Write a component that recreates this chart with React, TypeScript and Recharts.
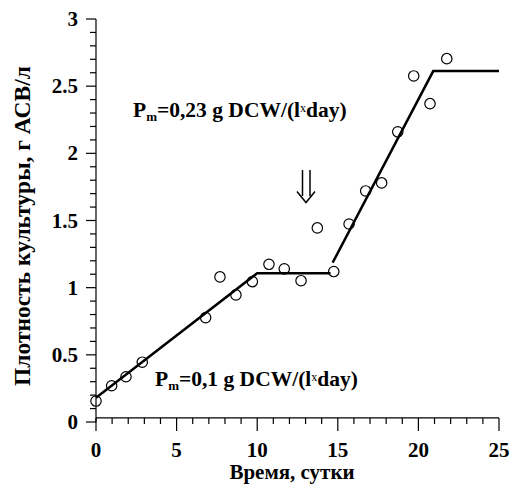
import React from "react";
import { ComposedChart, XAxis, YAxis, Line, Scatter, ReferenceLine } from "recharts";

const pointX = [0, 0.97, 1.86, 2.87, 6.8, 7.69, 8.68, 9.7, 10.73, 11.68, 12.72, 13.73, 14.75, 15.7, 16.73, 17.72, 18.72, 19.71, 20.72, 21.76];
const pointY = [0.156, 0.27, 0.337, 0.445, 0.777, 1.08, 0.946, 1.045, 1.174, 1.14, 1.052, 1.445, 1.12, 1.474, 1.72, 1.78, 2.16, 2.576, 2.37, 2.705];

const fit1X = [0, 10, 14.55];
const fit1Y = [0.18, 1.108, 1.108];
const fit2X = [14.68, 20.92, 25];
const fit2Y = [1.186, 2.612, 2.612];

const xTicks = [0, 1, 2, 3, 4, 5, 6, 7, 8, 9, 10, 11, 12, 13, 14, 15, 16, 17, 18, 19, 20, 21, 22, 23, 24, 25];
const xTickLabels = ["0", "5", "10", "15", "20", "25"];
const yTicks = [0, 0.1, 0.2, 0.3, 0.4, 0.5, 0.6, 0.7, 0.8, 0.9, 1, 1.1, 1.2, 1.3, 1.4, 1.5, 1.6, 1.7, 1.8, 1.9, 2, 2.1, 2.2, 2.3, 2.4, 2.5, 2.6, 2.7, 2.8, 2.9, 3];
const yTickLabels = ["0", "0.5", "1", "1.5", "2", "2.5", "3"];

const xTitle = "Время, сутки";
const yTitle = "Плотность культуры, г АСВ/л";
const note1 = ["P", "m", "=0,23 g DCW/(l", "x", "day)"];
const note2 = ["P", "m", "=0,1 g DCW/(l", "x", "day)"];

const points = pointX.map((x, i) => ({ x, y: pointY[i] }));
const fit1 = fit1X.map((x, i) => ({ x, y: fit1Y[i] }));
const fit2 = fit2X.map((x, i) => ({ x, y: fit2Y[i] }));

const FONT = "'Liberation Serif', 'Times New Roman', serif";

const XTick = (props: any) => {
  const { x, y, payload } = props;
  const label = String(payload.value);
  const major = xTickLabels.includes(label);
  const y0 = y - 4;
  return (
    <g>
      <line x1={x} x2={x} y1={y0} y2={y0 + (major ? 13 : 6)} stroke="#000" strokeWidth={1.2} />
      {major && (
        <text x={x} y={y + 35} textAnchor="middle" style={{ fontFamily: FONT }} fontWeight="bold" fontSize={21} fill="#000">
          {label}
        </text>
      )}
    </g>
  );
};

const YTick = (props: any) => {
  const { x, y, payload } = props;
  const v = Math.round(payload.value * 10) / 10;
  const label = String(v);
  const major = yTickLabels.includes(label);
  return (
    <g>
      <line x1={x - (major ? 10 : 6)} x2={x} y1={y} y2={y} stroke="#000" strokeWidth={1.2} />
      {major && (
        <text x={x - 18} y={y + 7} textAnchor="end" style={{ fontFamily: FONT }} fontWeight="bold" fontSize={21} fill="#000">
          {label}
        </text>
      )}
    </g>
  );
};

const Circle = (props: any) => {
  const { cx, cy } = props;
  return <circle cx={cx} cy={cy} r={5.2} fill="none" stroke="#000" strokeWidth={1.2} />;
};

const Note = ({ x, y, parts }: { x: number; y: number; parts: string[] }) => (
  <text x={x} y={y} style={{ fontFamily: FONT }} fontWeight="bold" fontSize={21.5} fill="#000">
    <tspan>{parts[0]}</tspan>
    <tspan fontSize={13} dy={4}>{parts[1]}</tspan>
    <tspan dy={-4}>{parts[2]}</tspan>
    <tspan fontSize={12} fontWeight="normal" dy={-5}>{parts[3]}</tspan>
    <tspan dy={5}>{parts[4]}</tspan>
  </text>
);

export default function App() {
  return (
    <div style={{ position: "absolute", left: 0, top: 0, width: 517, height: 489, background: "#fff" }}>
      <ComposedChart width={517} height={489} margin={{ top: 19, right: 18, bottom: 0, left: 0 }}>
        <XAxis
          type="number"
          dataKey="x"
          domain={[0, 25]}
          ticks={xTicks}
          interval={0}
          height={67}
          axisLine={false}
          tickLine={false}
          tickSize={0}
          tickMargin={0}
          tick={<XTick />}
        />
        <YAxis
          type="number"
          dataKey="y"
          domain={[0, 3]}
          ticks={yTicks}
          interval={0}
          width={96}
          axisLine={{ stroke: "#000", strokeWidth: 1.2 }}
          tickLine={false}
          tickSize={0}
          tickMargin={0}
          tick={<YTick />}
        />
        <ReferenceLine y={0.03} stroke="#000" strokeWidth={1.2} />
        <Line data={fit1} dataKey="y" type="linear" stroke="#000" strokeWidth={2.5} dot={false} activeDot={false} isAnimationActive={false} />
        <Line data={fit2} dataKey="y" type="linear" stroke="#000" strokeWidth={2.5} dot={false} activeDot={false} isAnimationActive={false} />
        <Scatter data={points} dataKey="y" shape={<Circle />} isAnimationActive={false} />
      </ComposedChart>
      <svg width={517} height={489} style={{ position: "absolute", left: 0, top: 0, pointerEvents: "none" }}>
        <text x={30} y={226} transform="rotate(-90 30 226)" textAnchor="middle" style={{ fontFamily: FONT }} fontWeight="bold" fontSize={23.5} fill="#000">
          {yTitle}
        </text>
        <text x={292} y={479} textAnchor="middle" style={{ fontFamily: FONT }} fontWeight="bold" fontSize={21} fill="#000">
          {xTitle}
        </text>
        <Note x={133} y={117} parts={note1} />
        <Note x={155} y={386} parts={note2} />
        <g stroke="#000" strokeWidth={1.5} fill="none">
          <line x1={302.5} y1={170} x2={302.5} y2={196} />
          <line x1={310} y1={170} x2={310} y2={196} />
          <polyline points="297,191.5 306,202.5 315,191.5" />
        </g>
      </svg>
    </div>
  );
}
